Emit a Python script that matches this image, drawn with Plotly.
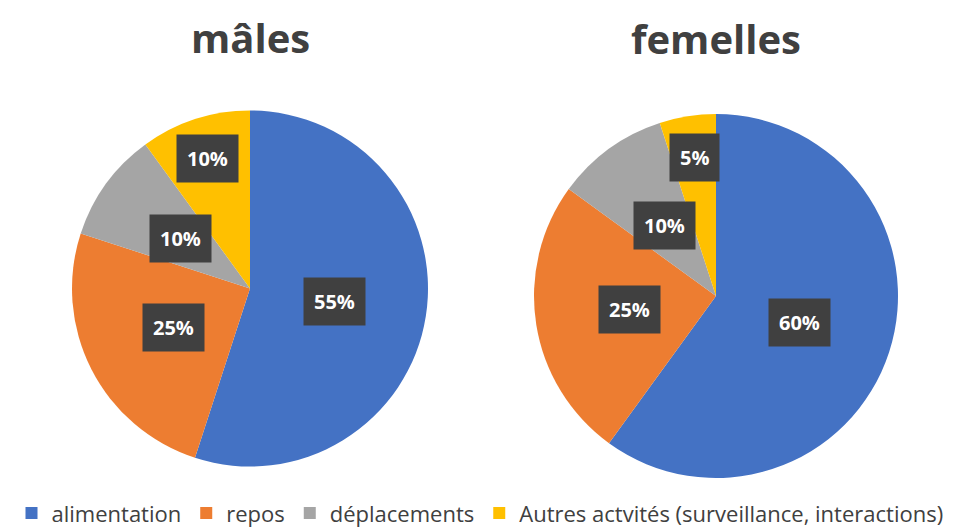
import math
import plotly.graph_objects as go

categories = ["alimentation", "repos", "déplacements",
              "Autres actvités (surveillance, interactions)"]
males = [55, 25, 10, 10]
femelles = [60, 25, 10, 5]
titles = ["mâles", "femelles"]

colors = ["#4472C4", "#ED7D31", "#A5A5A5", "#FFC000"]
W, H = 960, 528
# pie domains in pixels (left, top, right, bottom)
boxes = [(72, 110, 428, 467), (534, 113, 898, 479)]
label_r = [0.48, 0.48, 0.48, 0.77]

fig = go.Figure()
annotations = []
for i, (vals, title, box) in enumerate(zip([males, femelles], titles, boxes)):
    x0, y0, x1, y1 = box
    dom = dict(x=[x0 / W, x1 / W], y=[1 - y1 / H, 1 - y0 / H])
    fig.add_trace(go.Pie(
        labels=categories, values=vals, sort=False, direction="clockwise",
        rotation=0, domain=dom, marker=dict(colors=colors, line=dict(width=0)),
        textinfo="none", hoverinfo="label+percent", showlegend=(i == 0),
    ))
    cx, cy = (x0 + x1) / 2, (y0 + y1) / 2
    R = min(x1 - x0, y1 - y0) / 2
    total = sum(vals)
    cum = 0
    for j, v in enumerate(vals):
        mid = (cum + v / 2) / total * 2 * math.pi
        cum += v
        px = cx + label_r[j] * R * math.sin(mid)
        py = cy - label_r[j] * R * math.cos(mid)
        annotations.append(dict(
            x=px / W, y=1 - py / H, xref="paper", yref="paper",
            text=f"<b>{round(v / total * 100)}%</b>", showarrow=False,
            font=dict(family="Open Sans", size=20, color="white"),
            bgcolor="#404040", borderpad=10, xanchor="center", yanchor="middle",
        ))
    annotations.append(dict(
        x=cx / W, y=1 - (37 + i * 2) / H, xref="paper", yref="paper",
        text=f"<b>{title}</b>", showarrow=False,
        font=dict(family="Open Sans", size=40, color="#404040"),
        xanchor="center", yanchor="middle",
    ))

fig.update_layout(
    width=W, height=H, margin=dict(l=0, r=0, t=0, b=0, autoexpand=False),
    paper_bgcolor="white", plot_bgcolor="white",
    annotations=annotations,
    legend=dict(orientation="h", x=0.5, xanchor="center", y=0.028, yanchor="middle",
                font=dict(family="Open Sans", size=22, color="#404040"),
                itemwidth=30, tracegroupgap=0),
)
fig.write_html("out.html", config={"displayModeBar": False},
               post_script="document.body.style.margin='0';")
